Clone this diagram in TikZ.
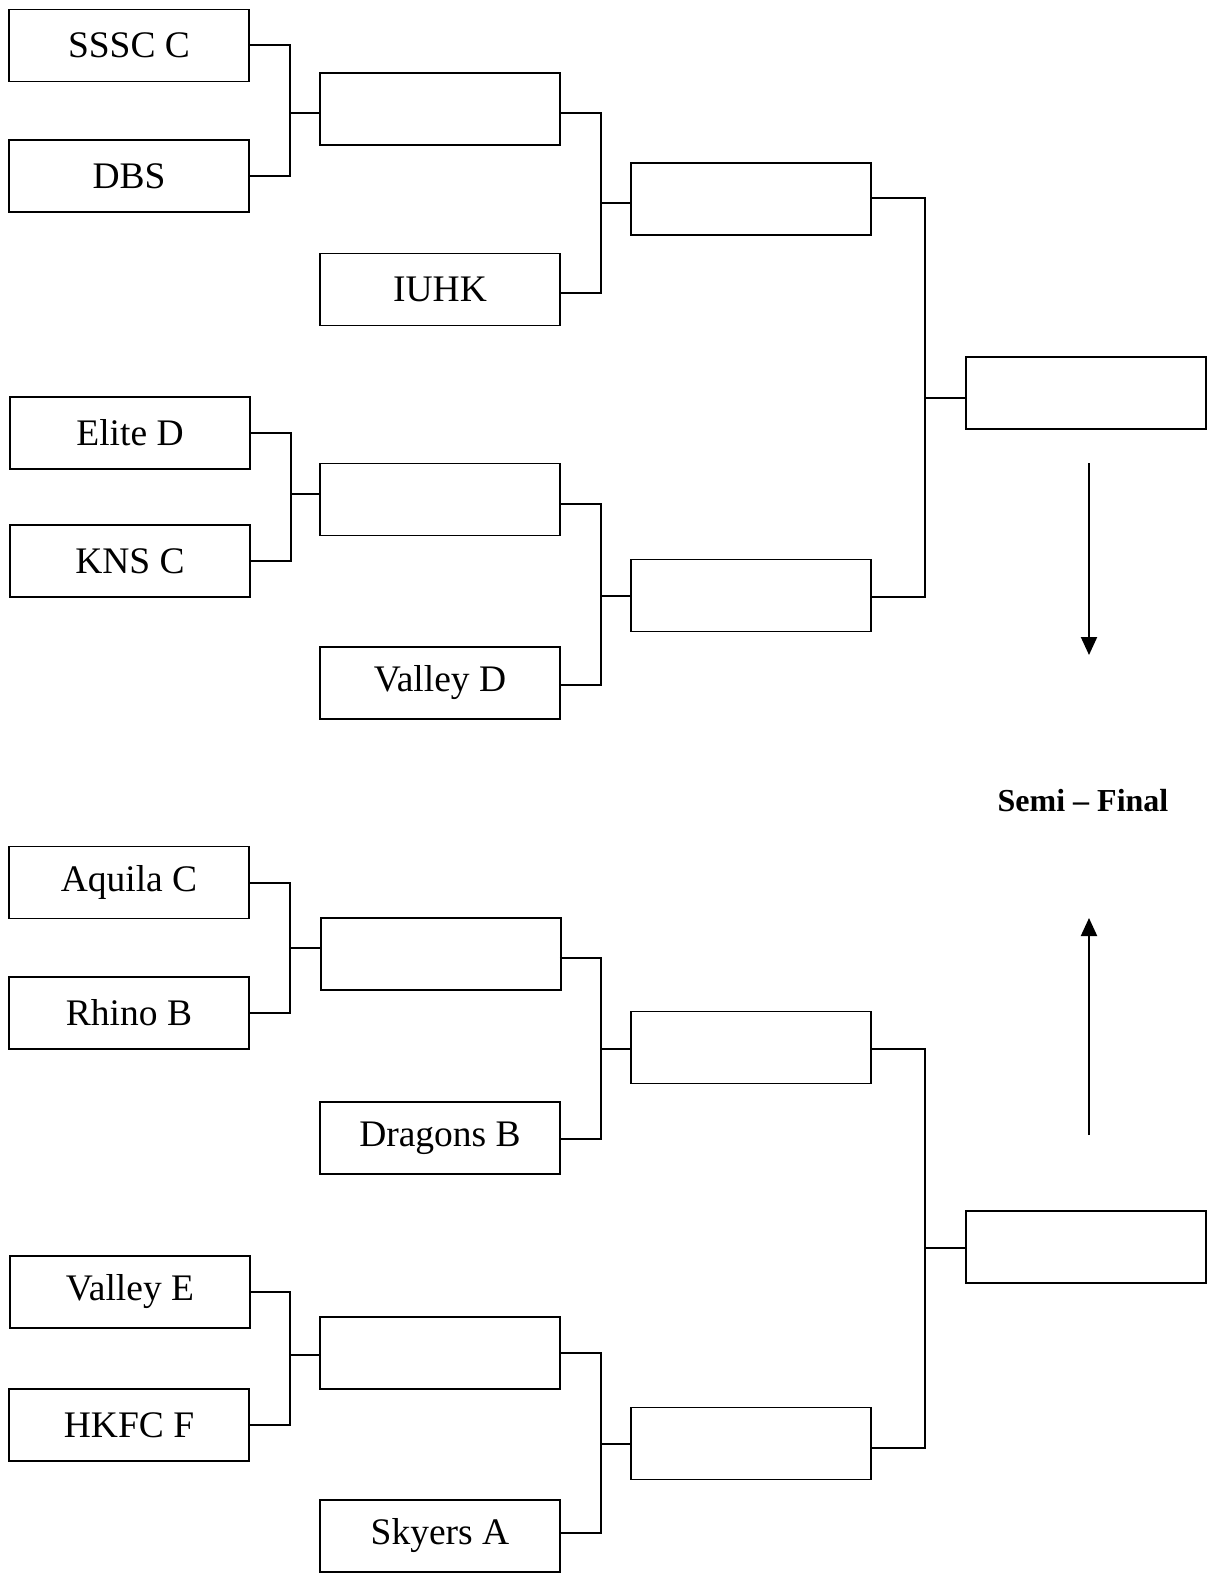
\documentclass[tikz,border=0pt]{standalone}
\usepackage{fontspec}
\setmainfont{Liberation Serif}
\usetikzlibrary{arrows.meta}
\begin{document}
\begin{tikzpicture}[x=0.5pt,y=-0.5pt,
  teambox/.style={draw=black,line width=0.75pt,minimum width=120pt,minimum height=36pt,inner sep=0pt,
    font=\fontsize{18.75pt}{22pt}\selectfont},
  link/.style={draw=black,line width=1pt},
  bigarrow/.style={draw=black,line width=1pt,-{Triangle[width=8pt,length=9pt]}}]
\useasboundingbox (0,0) rectangle (1213,1573);
% round 1
\node[teambox] (s1) at (129,45.5) {SSSC C};
\node[teambox] (s2) at (129,176) {DBS};
\node[teambox] (s3) at (130,433) {Elite D};
\node[teambox] (s4) at (130,561) {KNS C};
\node[teambox] (s5) at (129,882.5) {Aquila C};
\node[teambox] (s6) at (129,1013) {Rhino B};
\node[teambox] (s7) at (130,1292) {Valley E};
\node[teambox] (s8) at (129,1425) {HKFC F};
% round 2
\node[teambox] (q1) at (440,109) {};
\node[teambox] (iuhk) at (440,289.5) {IUHK};
\node[teambox] (q2) at (440,499.5) {};
\node[teambox] (vd) at (440,683) {Valley D};
\node[teambox] (q3) at (441,954) {};
\node[teambox] (db) at (440,1138) {Dragons B};
\node[teambox] (q4) at (440,1353) {};
\node[teambox] (sk) at (440,1536) {Skyers A};
% round 3
\node[teambox] (t1) at (751,199) {};
\node[teambox] (t2) at (751,595.5) {};
\node[teambox] (t3) at (751,1047.5) {};
\node[teambox] (t4) at (751,1443.5) {};
% semi-final
\node[teambox] (f1) at (1086,393) {};
\node[teambox] (f2) at (1086,1247) {};
% label and arrows
\node[font=\bfseries\fontsize{16pt}{19pt}\selectfont,inner sep=0pt] (sf) at (1083,801) {Semi – Final};
\coordinate (a1s) at (1089,463);
\coordinate (a1e) at (1089,655);
\coordinate (a2s) at (1089,1135);
\coordinate (a2e) at (1089,918);
\draw[bigarrow] (a1s) -- (a1e);
\draw[bigarrow] (a2s) -- (a2e);
% brackets round 1 -> 2
\draw[link] (s1.east) -- (s1.east -| 290,0) |- (s2.east);
\draw[link] (q1.west -| 290,0) ++(0,4) -- ([yshift=-2pt]q1.west);
\draw[link] (s3.east) -- (s3.east -| 291,0) |- (s4.east);
\draw[link] ([yshift=3pt]q2.west -| 291,0) -- ([yshift=3pt,xshift=1pt]q2.west);
\draw[link] (s5.east) -- (s5.east -| 290,0) |- (s6.east);
\draw[link] ([yshift=3pt]q3.west -| 290,0) -- ([yshift=3pt]q3.west);
\draw[link] (s7.east) -- (s7.east -| 290,0) |- (s8.east);
\draw[link] ([yshift=-1pt]q4.west -| 290,0) -- ([yshift=-1pt]q4.west);
% brackets round 2 -> 3
\draw[link] ([yshift=-2pt]q1.east) -- ([yshift=-2pt]q1.east -| 601,0) |- ([yshift=-1.5pt]iuhk.east);
\draw[link] ([yshift=-2pt]t1.west -| 601,0) -- ([yshift=-2pt]t1.west);
\draw[link] ([yshift=-2pt]q2.east) -- ([yshift=-2pt]q2.east -| 601,0) |- ([yshift=-1pt]vd.east);
\draw[link] (t2.west -| 601,0) -- (t2.west);
\draw[link] ([yshift=-2pt,xshift=-1pt]q3.east) -- ([yshift=-2pt]q3.east -| 601,0) |- ([yshift=-0.5pt]db.east);
\draw[link] ([yshift=-0.75pt]t3.west -| 601,0) -- ([yshift=-0.75pt]t3.west);
\draw[link] (q4.east) -- (q4.east -| 601,0) |- ([yshift=1.5pt]sk.east);
\draw[link] (t4.west -| 601,0) -- (t4.west);
% brackets round 3 -> semi
\draw[link] ([yshift=0.5pt]t1.east) -- ([yshift=0.5pt]t1.east -| 925,0) |- ([yshift=-0.75pt]t2.east);
\draw[link] ([yshift=-2.5pt]f1.west -| 925,0) -- ([yshift=-2.5pt]f1.west);
\draw[link] ([yshift=-0.75pt]t3.east) -- ([yshift=-0.75pt]t3.east -| 925,0) |- ([yshift=-2.25pt]t4.east);
\draw[link] ([yshift=-0.5pt]f2.west -| 925,0) -- ([yshift=-0.5pt]f2.west);
\end{tikzpicture}
\end{document}
